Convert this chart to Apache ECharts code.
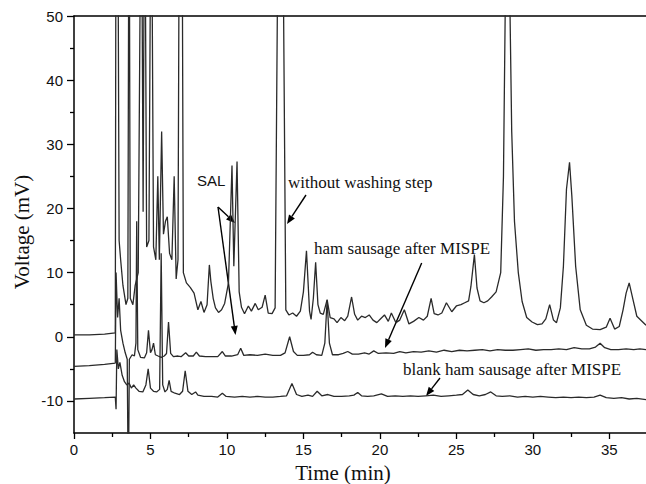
<!DOCTYPE html>
<html><head><meta charset="utf-8">
<script src="https://cdn.jsdelivr.net/npm/echarts@6/dist/echarts.min.js"></script>
<style>html,body{margin:0;padding:0;background:#fff}#c{width:646px;height:484px}</style>
</head><body><div id="c"></div>
<script>
// ---- axis ticks ----
const xTickLabels = [0, 5, 10, 15, 20, 25, 30, 35];
const xMinorTicks = [2.5, 7.5, 12.5, 17.5, 22.5, 27.5, 32.5];
const yTickLabels = [-10, 0, 10, 20, 30, 40, 50];
const yMinorTicks = [-5, 5, 15, 25, 35, 45];

// ---- series: [time (min), voltage (mV)] ----
const withoutWashing = [
[0,0.3],[1,0.3],[2,0.4],[2.7,0.6],[2.75,80],[2.85,80],[2.95,15],[3.05,12],[3.2,8],[3.4,5],[3.52,6],[3.6,80],[3.68,6],[3.85,5],[4.0,8],[4.2,10],[4.4,80],[4.52,19.5],[4.62,80],[4.75,14],[4.9,15],[5.05,80],[5.2,14],[5.35,12],[5.48,25],[5.58,12],[5.73,32],[5.85,16],[5.98,18],[6.1,18.7],[6.25,13],[6.4,12],[6.55,25],[6.68,9],[6.8,12],[6.9,80],[7.05,80],[7.15,10],[7.35,8.4],[7.6,7.7],[7.85,6.8],[8.1,4.2],[8.3,5.5],[8.5,3.8],[8.7,5],[8.85,11.2],[8.95,8.6],[9.1,6],[9.25,4.5],[9.45,3.8],[9.65,4.2],[9.85,5.2],[10.1,8.4],[10.33,26.7],[10.45,11],[10.66,27.3],[10.8,7],[10.95,4.6],[11.15,3.6],[11.4,4.8],[11.6,4.0],[11.85,5.2],[12.05,4.2],[12.3,4.6],[12.5,6.5],[12.7,3.7],[12.95,3.6],[13.15,4.5],[13.3,52],[13.5,80],[13.7,52],[13.85,4.2],[14.05,3.4],[14.3,3.7],[14.55,3.2],[14.8,4],[15.0,7],[15.2,13.4],[15.4,4],[15.5,2.7],[15.65,6],[15.8,11.6],[15.95,5],[16.1,3.7],[16.3,3.5],[16.55,5.8],[16.75,3],[17.0,2.8],[17.2,2.2],[17.45,3],[17.7,2.5],[17.9,3.2],[18.15,6.2],[18.35,3.5],[18.55,2.6],[18.8,3.2],[19.05,3.0],[19.3,3.4],[19.55,2.6],[19.8,2.2],[20.05,2.8],[20.3,3.4],[20.55,2.4],[20.75,3.7],[21.05,2.2],[21.3,2.6],[21.6,4.2],[21.9,2.0],[22.2,2.4],[22.55,3.0],[22.85,2.6],[23.1,3.2],[23.35,6.0],[23.55,3.6],[23.8,3.4],[24.05,3.7],[24.35,5.3],[24.7,3.9],[25.0,4.8],[25.3,5.0],[25.55,5.3],[25.8,5.6],[25.95,7.8],[26.18,12.8],[26.35,7.6],[26.55,5.6],[26.8,5.3],[27.05,5.6],[27.3,6.2],[27.6,7.0],[27.9,10],[28.08,25],[28.2,52],[28.35,80],[28.5,52],[28.62,32],[28.8,18],[29.05,10],[29.3,5.5],[29.6,3.0],[29.95,2.3],[30.3,1.9],[30.6,2.0],[30.85,2.8],[31.1,5.0],[31.35,2.6],[31.55,2.2],[31.8,4.5],[32.0,11],[32.2,23],[32.4,27.2],[32.55,22],[32.8,11],[33.1,4.2],[33.5,1.8],[33.9,1.2],[34.4,1.1],[34.8,1.5],[35.05,2.9],[35.35,1.2],[35.65,1.6],[35.9,4.2],[36.1,6.8],[36.3,8.4],[36.55,5.8],[36.8,3.2],[37.1,2.5],[37.4,1.8]
];
const hamSausageMISPE = [
[0,-4.6],[1,-4.5],[2,-4.3],[2.7,-4.1],[2.75,10],[2.85,3],[2.95,6],[3.05,1],[3.2,-1],[3.35,-2.5],[3.48,-3.5],[3.55,-25],[3.62,-3.5],[3.8,-2.8],[3.95,-3],[4.05,-1],[4.1,18],[4.17,-2],[4.35,-3.2],[4.6,-3.3],[4.75,-2.5],[4.87,1.0],[5.0,-2.5],[5.1,-2.0],[5.2,-1.0],[5.32,-2.8],[5.5,-3.0],[5.7,-3.2],[5.9,-3.0],[6.05,-2.6],[6.18,2.3],[6.32,-2.6],[6.5,-3.1],[6.8,-3.0],[7.0,-3.1],[7.15,-2.8],[7.3,-2.5],[7.5,-3.0],[7.8,-3.0],[8.0,-2.4],[8.2,-3.0],[8.6,-3.1],[9.0,-3.1],[9.4,-3.1],[9.7,-2.3],[9.9,-3.0],[10.3,-3.0],[10.7,-2.8],[10.9,-1.8],[11.1,-2.9],[11.5,-2.8],[12.0,-2.9],[12.5,-2.7],[13.0,-2.9],[13.5,-2.9],[13.8,-2.5],[14.1,0.0],[14.35,-2.3],[14.6,-2.9],[15.0,-2.9],[15.4,-2.8],[15.6,-2.4],[15.85,-2.8],[16.2,-2.9],[16.4,-1],[16.55,5.7],[16.7,-1],[16.9,-2.8],[17.3,-2.8],[17.6,-2.6],[17.9,-2.3],[18.2,-2.7],[18.6,-2.7],[19.0,-2.5],[19.3,-2.7],[19.6,-2.2],[19.9,-2.6],[20.4,-2.5],[20.9,-2.6],[21.3,-2.3],[21.7,-2.5],[22.2,-2.3],[22.7,-2.4],[23.2,-2.2],[23.7,-2.4],[24.2,-2.1],[24.7,-2.3],[25.2,-2.1],[25.7,-2.2],[26.2,-2.1],[26.7,-2.0],[27.2,-2.2],[27.7,-2.0],[28.2,-2.1],[28.7,-2.1],[29.2,-2.0],[29.7,-1.9],[30.2,-2.1],[30.7,-2.0],[31.2,-2.0],[31.7,-1.9],[32.2,-2.0],[32.7,-1.7],[33.2,-1.9],[33.7,-1.9],[34.1,-1.6],[34.4,-1.0],[34.7,-1.7],[35.1,-2.0],[35.6,-2.0],[36.1,-1.9],[36.6,-2.0],[37.0,-1.9],[37.4,-2.0]
];
const blankHamSausage = [
[0,-9.7],[1,-9.6],[2,-9.5],[2.7,-9.4],[2.75,-11.3],[2.8,-2],[2.9,-5],[3.0,-4],[3.15,-6],[3.3,-7],[3.45,-7.5],[3.6,-7.2],[3.75,-8],[3.9,-7.5],[4.05,-8],[4.25,-8.5],[4.5,-8.6],[4.7,-7.5],[4.85,-5.0],[5.0,-8.0],[5.2,-8.5],[5.4,-8.6],[5.6,-8.2],[5.7,13],[5.8,-7.5],[5.95,-8.6],[6.1,-8.2],[6.22,-6.8],[6.35,-8.5],[6.6,-8.8],[6.9,-9.0],[7.1,-8.5],[7.27,-5.3],[7.45,-8.5],[7.7,-9.0],[7.95,-8.6],[8.1,-9.1],[8.5,-9.3],[9.0,-9.3],[9.4,-9.4],[9.7,-8.8],[9.95,-9.3],[10.5,-9.4],[11.0,-9.3],[11.5,-9.4],[12.0,-9.3],[12.5,-9.4],[13.0,-9.4],[13.5,-9.3],[13.9,-9.2],[14.25,-7.3],[14.55,-9.0],[14.9,-9.3],[15.3,-9.1],[15.6,-9.3],[15.9,-8.5],[16.2,-9.2],[16.6,-9.0],[17.0,-9.3],[17.5,-9.3],[18.0,-9.2],[18.3,-9.1],[18.55,-8.7],[18.8,-9.2],[19.2,-9.3],[19.6,-9.2],[20.1,-8.9],[20.5,-9.3],[21.0,-9.2],[21.5,-9.3],[22.0,-9.2],[22.5,-9.3],[23.0,-9.2],[23.5,-9.1],[24.0,-9.3],[24.5,-9.2],[25.0,-9.1],[25.4,-9.0],[25.75,-8.3],[26.1,-9.0],[26.5,-9.2],[26.9,-9.0],[27.25,-8.6],[27.6,-9.2],[28.0,-9.3],[28.5,-9.2],[29.0,-9.4],[29.5,-9.3],[30.0,-9.4],[30.5,-9.3],[31.0,-9.4],[31.5,-9.5],[32.0,-9.4],[32.5,-9.5],[33.0,-9.4],[33.5,-9.5],[34.0,-9.4],[34.4,-9.1],[34.8,-9.5],[35.3,-9.6],[35.8,-9.5],[36.3,-9.7],[36.8,-9.6],[37.4,-9.8]
];

const serif = "'Liberation Serif','Times New Roman',serif";
const sans = "'Liberation Sans',Arial,sans-serif";

function arrow(x1, y1, x2, y2) {
  const a = Math.atan2(y2 - y1, x2 - x1), L = 9, W = 3.5;
  const bx = x2 - L * Math.cos(a), by = y2 - L * Math.sin(a);
  const px = -Math.sin(a) * W, py = Math.cos(a) * W;
  return [
    { type: 'line', shape: { x1: x1, y1: y1, x2: bx, y2: by }, style: { stroke: '#000', lineWidth: 1.4 }, silent: true },
    { type: 'polygon', shape: { points: [[x2, y2], [bx + px, by + py], [bx - px, by - py]] }, style: { fill: '#000' }, silent: true }
  ];
}
function txt(t, x, y, font, size, extra) {
  return Object.assign({ type: 'text', x: x, y: y, silent: true,
    style: { text: t, fontFamily: font, fontSize: size, fill: '#111', align: 'left', verticalAlign: 'middle' } }, extra || {});
}

const chart = echarts.init(document.getElementById('c'), null, { renderer: 'svg' });
const lineStyle = { color: '#2a2a2a', width: 1.3 };
const mkSeries = (name, data) => ({ name: name, type: 'line', data: data, showSymbol: false, symbol: 'none',
  lineStyle: lineStyle, animation: false, clip: true, xAxisIndex: 0, yAxisIndex: 0 });

chart.setOption({
  animation: false,
  backgroundColor: '#fff',
  grid: { left: 74, right: 0, top: 16, bottom: 51, containLabel: false },
  xAxis: [
    { type: 'value', min: 0, max: 37.4, position: 'bottom',
      axisLine: { onZero: false, lineStyle: { color: '#000', width: 1.5 } },
      axisTick: { customValues: xTickLabels, length: 6, lineStyle: { color: '#000', width: 1.3 } },
      axisLabel: { customValues: xTickLabels, fontFamily: sans, fontSize: 15, color: '#111', margin: 9 },
      splitLine: { show: false } },
    { type: 'value', min: 0, max: 37.4, position: 'bottom',
      axisLine: { show: false, onZero: false },
      axisTick: { customValues: xMinorTicks, length: 4, lineStyle: { color: '#000', width: 1.3 } },
      axisLabel: { show: false }, splitLine: { show: false } },
    { type: 'value', min: 0, max: 37.4, position: 'top',
      axisLine: { onZero: false, lineStyle: { color: '#000', width: 1.5 } },
      axisTick: { show: false }, axisLabel: { show: false }, splitLine: { show: false } }
  ],
  yAxis: [
    { type: 'value', min: -15, max: 50, position: 'left',
      axisLine: { show: true, onZero: false, lineStyle: { color: '#000', width: 1.5 } },
      axisTick: { show: true, customValues: yTickLabels, length: 7, lineStyle: { color: '#000', width: 1.3 } },
      axisLabel: { customValues: yTickLabels, fontFamily: sans, fontSize: 15, color: '#111', margin: 11 },
      splitLine: { show: false } },
    { type: 'value', min: -15, max: 50, position: 'left',
      axisLine: { show: false, onZero: false },
      axisTick: { show: true, customValues: yMinorTicks, length: 4, lineStyle: { color: '#000', width: 1.3 } },
      axisLabel: { show: false }, splitLine: { show: false } }
  ],
  series: [
    mkSeries('without washing step', withoutWashing),
    mkSeries('ham sausage after MISPE', hamSausageMISPE),
    mkSeries('blank ham sausage after MISPE', blankHamSausage)
  ],
  graphic: [
    txt('Voltage (mV)', 22, 232, serif, 21, { rotation: Math.PI / 2, style: { text: 'Voltage (mV)', fontFamily: serif, fontSize: 21, fill: '#111', align: 'center', verticalAlign: 'middle' } }),
    txt('Time (min)', 343, 473, serif, 21, { style: { text: 'Time (min)', fontFamily: serif, fontSize: 21, fill: '#111', align: 'center', verticalAlign: 'middle' } }),
    txt('SAL', 197, 180, sans, 15),
    txt('without washing step', 288, 182, serif, 17),
    txt('ham sausage after MISPE', 314, 248, serif, 17),
    txt('blank ham sausage after MISPE', 403, 369, serif, 17)
  ].concat(arrow(218, 207, 235, 223), arrow(218, 207, 235.5, 335), arrow(306, 195, 287, 224),
           arrow(421.7, 263, 385, 348), arrow(440, 378, 426, 396))
});
</script>
</body></html>
